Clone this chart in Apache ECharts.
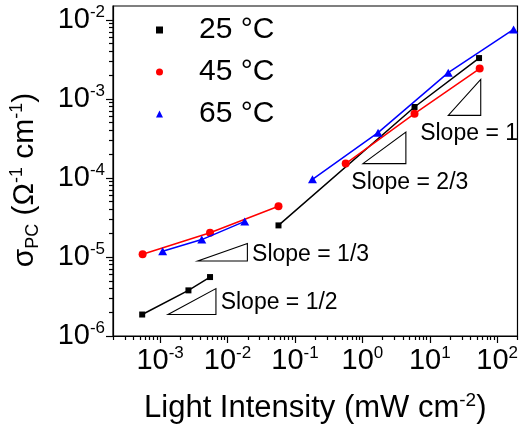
<!DOCTYPE html>
<html><head><meta charset="utf-8">
<script src="https://cdn.jsdelivr.net/npm/echarts@6/dist/echarts.min.js"></script>
<style>html,body{margin:0;padding:0;background:#fff}#c{width:521px;height:431px}</style>
</head><body><div id="c"></div>
<script>
const FONT = '"Liberation Sans", Arial, sans-serif';
const seriesNames = ['25 °C', '45 °C', '65 °C'];
const seriesColors = ['#000000', '#ff0000', '#0000ff'];
// 25 °C
const x25a = [5.42e-4, 2.63e-3, 5.5e-3];
const y25a = [1.87e-6, 3.78e-6, 5.57e-6];
const x25b = [0.057, 5.94, 53.8];
const y25b = [2.51e-5, 7.9e-4, 3.29e-3];
// 45 °C
const x45a = [5.5e-4, 5.5e-3, 0.057];
const y45a = [1.08e-5, 2.03e-5, 4.38e-5];
const x45b = [0.566, 5.94, 55];
const y45b = [1.52e-4, 6.5e-4, 2.42e-3];
// 65 °C
const x65a = [1.09e-3, 4.15e-3, 0.018];
const y65a = [1.18e-5, 1.66e-5, 2.82e-5];
const x65b = [0.182, 1.71, 18.8, 175];
const y65b = [9.6e-5, 3.74e-4, 2.15e-3, 7.59e-3];

const xMin = 2e-4, xMax = 200, yMin = 1e-6, yMax = 0.015;
const xTickValues = [1e-3, 1e-2, 1e-1, 1, 10, 100];
const xTickExps = ['-3', '-2', '-1', '0', '1', '2'];
const yTickValues = [1e-6, 1e-5, 1e-4, 1e-3, 1e-2];
const yTickExps = ['-6', '-5', '-4', '-3', '-2'];
const minorMultipliers = [2, 3, 4, 5, 6, 7, 8, 9];
const xDecades = [-4, -3, -2, -1, 0, 1, 2];
const yDecades = [-6, -5, -4, -3, -2];

const slopeLabels = ['Slope = 1/2', 'Slope = 1/3', 'Slope = 2/3', 'Slope = 1'];
const slopeX0 = [1.31e-3, 3.62e-3, 1.02, 18.8];
const slopeX1 = [6.73e-3, 0.0197, 4.42, 57];
const slopeY0 = [1.87e-6, 8.9e-6, 1.52e-4, 6.2e-4];
const slopeY1 = [3.98e-6, 1.48e-5, 3.81e-4, 1.77e-3];
const slopeTextX = [7.9e-3, 0.0231, 0.686, 7.2];
const slopeTextY = [2.61e-6, 1.08e-5, 8.6e-5, 3.63e-4];

function minorList(decades, lo, hi) {
  const out = [];
  decades.forEach(k => minorMultipliers.forEach(m => {
    const v = m * Math.pow(10, k);
    if (v >= lo * 0.999 && v <= hi * 1.001) out.push(v);
  }));
  return out;
}
const xMinor = minorList(xDecades, xMin, xMax);
const yMinor = minorList(yDecades, yMin, yMax);

function fmt(values, exps) {
  return function (v) {
    const i = values.findIndex(t => Math.abs(Math.log10(t) - Math.log10(v)) < 1e-6);
    return i < 0 ? '' : '{b|10}{e|' + exps[i] + '}';
  };
}
const tickRich = {
  b: { fontSize: 29, fontFamily: FONT, color: '#000', lineHeight: 32 },
  e: { fontSize: 17, fontFamily: FONT, color: '#000', lineHeight: 17, verticalAlign: 'top' }
};
const pairs = (xs, ys) => xs.map((x, i) => [x, ys[i]]);
const axisLineStyle = { color: '#000', width: 1.2 };

function lineSeries(name, idx, xs, ys, symbol, size) {
  return {
    type: 'line', name: name, data: pairs(xs, ys), symbol: symbol, symbolSize: size,
    itemStyle: { color: seriesColors[idx] }, lineStyle: { color: seriesColors[idx], width: 1.5 },
    z: 3 + idx, silent: true
  };
}

const chart = echarts.init(document.getElementById('c'), null, { renderer: 'canvas' });
chart.setOption({
  animation: false,
  backgroundColor: '#fff',
  grid: { left: 112, top: 6, width: 407, height: 330, show: true, borderColor: '#000', borderWidth: 1.2, backgroundColor: 'transparent' },
  legend: {
    orient: 'vertical', left: 151, top: 10, itemWidth: 7, itemHeight: 7, itemGap: 12,
    data: [{ name: seriesNames[0], icon: 'rect' }, { name: seriesNames[1], icon: 'circle' }, { name: seriesNames[2], icon: 'triangle' }],
    textStyle: { fontSize: 30, fontFamily: FONT, color: '#000', lineHeight: 30, padding: [0, 0, 0, 31] },
    selectedMode: false
  },
  xAxis: [{
    type: 'log', logBase: 10, min: xMin, max: xMax, position: 'bottom',
    axisLine: { lineStyle: axisLineStyle },
    axisTick: { length: 7, lineStyle: axisLineStyle, customValues: xTickValues },
    axisLabel: { customValues: xTickValues, formatter: fmt(xTickValues, xTickExps), rich: tickRich, margin: 9 },
    splitLine: { show: false },
    name: '{a|Light Intensity (mW cm}{s|-2}{a|)}', nameLocation: 'middle', nameGap: 55,
    nameTextStyle: { rich: { a: { fontSize: 31, fontFamily: FONT, color: '#000', lineHeight: 34 }, s: { fontSize: 19, fontFamily: FONT, color: '#000', lineHeight: 18, verticalAlign: 'top' } } }
  }, {
    type: 'log', logBase: 10, min: xMin, max: xMax, position: 'bottom',
    axisLine: { show: false },
    axisTick: { length: 4, lineStyle: axisLineStyle, customValues: xMinor },
    axisLabel: { show: false }, splitLine: { show: false }
  }],
  yAxis: [{
    type: 'log', logBase: 10, min: yMin, max: yMax, position: 'left',
    axisLine: { lineStyle: axisLineStyle },
    axisTick: { length: 7, lineStyle: axisLineStyle, customValues: yTickValues },
    axisLabel: { customValues: yTickValues, formatter: fmt(yTickValues, yTickExps), rich: tickRich, margin: 8 },
    splitLine: { show: false },
    name: '{a|σ}{b|PC}{a| (Ω}{s|-1}{a| cm}{s|-1}{a|)}', nameLocation: 'middle', nameRotate: 90, nameGap: 71,
    nameTextStyle: {
      padding: [0, 18, 0, 0],
      rich: {
        a: { fontSize: 30, fontFamily: FONT, color: '#000', lineHeight: 34 },
        s: { fontSize: 18, fontFamily: FONT, color: '#000', lineHeight: 18, verticalAlign: 'top' },
        b: { fontSize: 18, fontFamily: FONT, color: '#000', lineHeight: 18, verticalAlign: 'bottom' }
      }
    }
  }, {
    type: 'log', logBase: 10, min: yMin, max: yMax, position: 'left',
    axisLine: { show: false },
    axisTick: { length: 4, lineStyle: axisLineStyle, customValues: yMinor },
    axisLabel: { show: false }, splitLine: { show: false }
  }],
  series: [
    lineSeries(seriesNames[0], 0, x25a, y25a, 'rect', 6),
    lineSeries(seriesNames[0], 0, x25b, y25b, 'rect', 6),
    lineSeries(seriesNames[1], 1, x45a, y45a, 'circle', 8),
    lineSeries(seriesNames[1], 1, x45b, y45b, 'circle', 8),
    lineSeries(seriesNames[2], 2, x65a, y65a, 'triangle', [9, 8]),
    lineSeries(seriesNames[2], 2, x65b, y65b, 'triangle', [9, 8]),
    {
      type: 'custom', clip: false, silent: true, z: 2,
      data: slopeLabels.map((l, i) => [slopeX0[i], slopeY0[i], slopeX1[i], slopeY1[i], slopeTextX[i], slopeTextY[i]]),
      renderItem: function (params, api) {
        const i = params.dataIndex;
        const p0 = api.coord([api.value(0), api.value(1)]);
        const p1 = api.coord([api.value(2), api.value(1)]);
        const p2 = api.coord([api.value(2), api.value(3)]);
        const pt = api.coord([api.value(4), api.value(5)]);
        return {
          type: 'group', children: [
            { type: 'polygon', shape: { points: [p0, p1, p2] }, style: { fill: 'none', stroke: '#000', lineWidth: 1.1 } },
            { type: 'text', x: pt[0], y: pt[1], style: { text: slopeLabels[i], fill: '#000', font: '23px ' + FONT, align: 'left', verticalAlign: 'middle' } }
          ]
        };
      }
    }
  ]
});
</script></body></html>
